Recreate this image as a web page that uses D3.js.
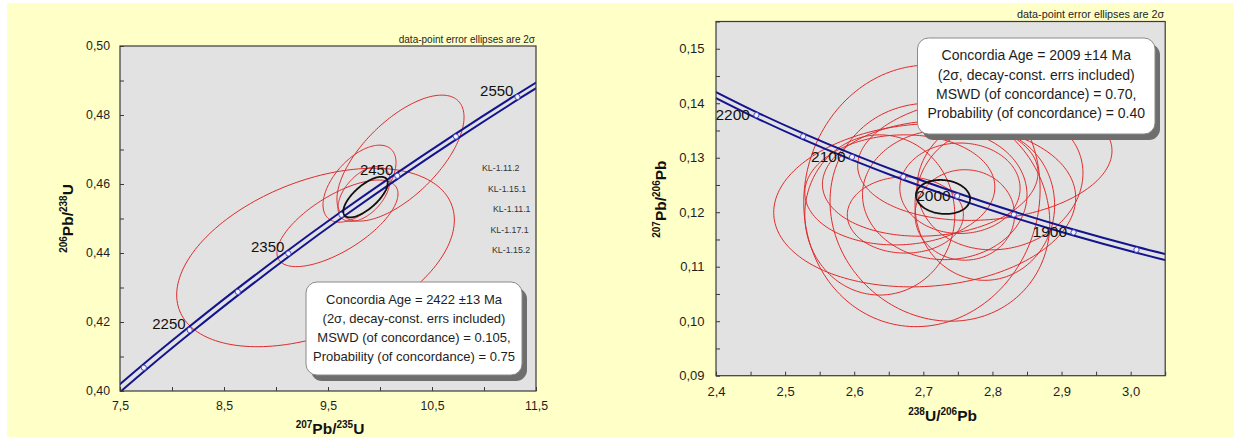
<!DOCTYPE html>
<html>
<head>
<meta charset="utf-8">
<script src="https://cdn.jsdelivr.net/npm/d3@7"></script>
<style>
  html, body { margin: 0; padding: 0; background: #ffffff; }
  svg { display: block; font-family: "Liberation Sans", Arial, sans-serif; }
</style>
</head>
<body>
<svg id="chart" width="1238" height="439"></svg>
<script>
// ---------- Wetherill concordia: 207Pb/235U vs 206Pb/238U ----------
const wetherillAges = [2150, 2200, 2250, 2300, 2350, 2400, 2450, 2500, 2550, 2600];
const wetherillX    = [7.3097, 7.7291, 8.1698, 8.6326, 9.1189, 9.6295, 10.1660, 10.7297, 11.3217, 11.9437];
const wetherillY    = [0.39587, 0.40675, 0.41767, 0.42873, 0.43986, 0.45107, 0.46237, 0.47375, 0.48523, 0.49679];
const wetherillLabelAges = [2250, 2350, 2450, 2550];

// spot analyses: [207Pb/235U, 206Pb/238U, 2s(207/235), 2s(206/238), rho]
const wetherillSpots = [
  [9.380, 0.4387, 1.335, 0.02586, 0.42],
  [10.197, 0.4675, 0.611, 0.01826, 0.65],
  [9.803, 0.4601, 0.351, 0.01116, 0.55],
  [9.591, 0.4486, 0.582, 0.01255, 0.68],
  [9.846, 0.4571, 0.250, 0.00797, 0.50]
];
const wetherillMean = [9.861, 0.4562, 0.2135, 0.00588, 0.70];
const spotNames = ["KL-1.11.2", "KL-1.15.1", "KL-1.11.1", "KL-1.17.1", "KL-1.15.2"];

const wetherillXTicks  = [7.5, 8, 8.5, 9, 9.5, 10, 10.5, 11, 11.5];
const wetherillXLabels = [7.5, 8.5, 9.5, 10.5, 11.5];
const wetherillYTicks  = [0.40, 0.41, 0.42, 0.43, 0.44, 0.45, 0.46, 0.47, 0.48, 0.49, 0.50];
const wetherillYLabels = [0.40, 0.42, 0.44, 0.46, 0.48, 0.50];

const wetherillResult = [
  "Concordia Age = 2422 \u00b113 Ma",
  "(2\u03c3, decay-const. errs included)",
  "MSWD (of concordance) = 0.105,",
  "Probability (of concordance) = 0.75"
];

// ---------- Tera-Wasserburg: 238U/206Pb vs 207Pb/206Pb ----------
const teraAges = [2250, 2200, 2150, 2100, 2050, 2000, 1950, 1900, 1850, 1800];
const teraX    = [2.3942, 2.4585, 2.5261, 2.5968, 2.6710, 2.7490, 2.8310, 2.9174, 3.0084, 3.1046];
const teraY    = [0.14187, 0.13782, 0.13392, 0.13015, 0.12651, 0.12299, 0.11958, 0.11629, 0.11311, 0.11004];
const teraLabelAges = [2200, 2100, 2000, 1900];

// spot analyses: [238U/206Pb, 207Pb/206Pb, 2s(238/206), 2s(207/206), rho]
const teraSpots = [
  [2.698, 0.1230, 0.171, 0.0240, 0.05],
  [2.724, 0.1200, 0.159, 0.0200, -0.10],
  [2.702, 0.1213, 0.2185, 0.0150, 0.09],
  [2.789, 0.1299, 0.184, 0.0114, 0.12],
  [2.731, 0.1232, 0.119, 0.0119, 0.00],
  [2.666, 0.1241, 0.1375, 0.0101, 0.05],
  [2.753, 0.1244, 0.087, 0.0083, 0.00],
  [2.710, 0.1262, 0.156, 0.0106, 0.10],
  [2.637, 0.1195, 0.1085, 0.0147, 0.00],
  [2.789, 0.1213, 0.101, 0.0138, 0.00],
  [2.811, 0.1259, 0.120, 0.0128, 0.10],
  [2.674, 0.1195, 0.084, 0.0070, 0.00],
  [2.760, 0.1195, 0.072, 0.0083, 0.00]
];
const teraMean = [2.7285, 0.1228, 0.0391, 0.00312, -0.10];

const teraXTicks  = [2.4, 2.45, 2.5, 2.55, 2.6, 2.65, 2.7, 2.75, 2.8, 2.85, 2.9, 2.95, 3.0, 3.05];
const teraXLabels = [2.4, 2.5, 2.6, 2.7, 2.8, 2.9, 3.0];
const teraYTicks  = [0.09, 0.095, 0.10, 0.105, 0.11, 0.115, 0.12, 0.125, 0.13, 0.135, 0.14, 0.145, 0.15, 0.155];
const teraYLabels = [0.09, 0.10, 0.11, 0.12, 0.13, 0.14, 0.15];

const teraResult = [
  "Concordia Age = 2009 \u00b114 Ma",
  "(2\u03c3, decay-const. errs included)",
  "MSWD (of concordance) = 0.70,",
  "Probability (of concordance) = 0.40"
];

const ellipseNote = "data-point error ellipses are 2\u03c3";

// ---------- drawing ----------
const svg = d3.select("#chart");
const commaLocale = d3.formatLocale({ decimal: ",", thousands: ".", grouping: [3], currency: ["", ""] });

const COL = {
  page: "#ffffc8",
  plot: "#e2e2e2",
  frame: "#3a3a3a",
  curve: "#14148f",
  marker: "#3b3bbd",
  spot: "#e02a2a",
  mean: "#111111",
  text: "#1e1e1e"
};

svg.append("rect").attr("x", 7).attr("y", 3).attr("width", 1227).attr("height", 434).attr("fill", COL.page);

const hasValue = (list, d) => list.some(v => Math.abs(v - d) < 1e-9);

function ellipsePath(x, y, e) {
  const [cx, cy, sx, sy, rho] = e;
  const k = Math.sqrt(1 - rho * rho);
  const pts = d3.range(0, 360, 2).map(a => {
    const t = a * Math.PI / 180;
    return [x(cx + sx * Math.cos(t)), y(cy + sy * (rho * Math.cos(t) + k * Math.sin(t)))];
  });
  return d3.line().curve(d3.curveLinearClosed)(pts);
}

function superLabel(sel, parts, size, supSize) {
  parts.forEach(p => {
    if (p.sup) {
      sel.append("tspan").attr("font-size", supSize).attr("dy", -size * 0.38).text(p.t);
    } else {
      sel.append("tspan").attr("font-size", size).attr("dy", p.after ? size * 0.38 : 0).text(p.t);
    }
  });
}

function drawPanel(cfg) {
  const g = svg.append("g");
  const x = d3.scaleLinear().domain(cfg.xDomain).range([cfg.left, cfg.right]);
  const y = d3.scaleLinear().domain(cfg.yDomain).range([cfg.bottom, cfg.top]);
  const clipId = cfg.id + "-clip";

  svg.append("defs").append("clipPath").attr("id", clipId)
    .append("rect").attr("x", cfg.left).attr("y", cfg.top)
    .attr("width", cfg.right - cfg.left).attr("height", cfg.bottom - cfg.top);

  // plot background
  g.append("rect").attr("x", cfg.left).attr("y", cfg.top)
    .attr("width", cfg.right - cfg.left).attr("height", cfg.bottom - cfg.top)
    .attr("fill", COL.plot);

  // axes with inward ticks
  const fx = commaLocale.format(cfg.xFmt);
  const fy = commaLocale.format(cfg.yFmt);
  const xAxis = d3.axisBottom(x).tickValues(cfg.xTicks)
    .tickSizeInner(-4).tickSizeOuter(0).tickPadding(cfg.xPad)
    .tickFormat(d => hasValue(cfg.xLabels, d) ? fx(d) : "");
  const yAxis = d3.axisLeft(y).tickValues(cfg.yTicks)
    .tickSizeInner(-4).tickSizeOuter(0).tickPadding(cfg.yPad)
    .tickFormat(d => hasValue(cfg.yLabels, d) ? fy(d) : "");

  const gx = g.append("g").attr("transform", `translate(0,${cfg.bottom})`).call(xAxis);
  const gy = g.append("g").attr("transform", `translate(${cfg.left},0)`).call(yAxis);
  [gx, gy].forEach(a => {
    a.select(".domain").remove();
    a.selectAll(".tick line").attr("stroke", COL.frame).attr("stroke-width", 1);
    a.selectAll(".tick text").attr("fill", COL.text)
      .attr("font-family", "'Liberation Sans', Arial, sans-serif")
      .attr("font-size", cfg.tickFont);
  });

  const body = g.append("g").attr("clip-path", `url(#${clipId})`);

  // spot error ellipses
  body.selectAll("path.spot").data(cfg.spots).join("path")
    .attr("class", "spot")
    .attr("d", d => ellipsePath(x, y, d))
    .attr("fill", "none").attr("stroke", COL.spot).attr("stroke-width", 1);

  // concordia band (decay-constant uncertainty)
  const pts = cfg.ages.map((a, i) => ({ age: a, x: cfg.cx[i], y: cfg.cy[i] }));
  [-1, 1].forEach(s => {
    const line = d3.line()
      .x(d => x(d.x + s * cfg.bandX))
      .y(d => y(d.y + s * cfg.bandY))
      .curve(d3.curveCatmullRom.alpha(0.5));
    body.append("path").attr("d", line(pts))
      .attr("fill", "none").attr("stroke", COL.curve).attr("stroke-width", 2);
  });

  // age marks
  body.selectAll("circle.age").data(pts).join("circle")
    .attr("class", "age")
    .attr("cx", d => x(d.x)).attr("cy", d => y(d.y)).attr("r", 2.6)
    .attr("fill", "#f4f4ff").attr("stroke", COL.marker).attr("stroke-width", 0.9);

  // concordia age ellipse
  body.append("path").attr("d", ellipsePath(x, y, cfg.mean))
    .attr("fill", "none").attr("stroke", COL.mean).attr("stroke-width", 1.8);

  // age labels
  g.selectAll("text.agelab").data(pts.filter(d => cfg.labelAges.includes(d.age))).join("text")
    .attr("class", "agelab")
    .attr("x", d => x(d.x) + cfg.ageDx).attr("y", d => y(d.y) + cfg.ageDy)
    .attr("text-anchor", "end").attr("font-size", cfg.ageFont).attr("fill", "#111")
    .text(d => d.age);

  // frame
  g.append("rect").attr("x", cfg.left).attr("y", cfg.top)
    .attr("width", cfg.right - cfg.left).attr("height", cfg.bottom - cfg.top)
    .attr("fill", "none").attr("stroke", COL.frame).attr("stroke-width", 1.2);

  // note above the plot
  g.append("text").attr("x", cfg.right - 1).attr("y", cfg.top - cfg.noteGap)
    .attr("text-anchor", "end").attr("font-size", cfg.noteFont).attr("fill", COL.text)
    .text(ellipseNote);

  // result box with drop shadow
  const b = cfg.box;
  g.append("rect").attr("x", b.x + 5).attr("y", b.y + 6).attr("width", b.w).attr("height", b.h)
    .attr("rx", 11).attr("fill", "#6e6e6e");
  g.append("rect").attr("x", b.x).attr("y", b.y).attr("width", b.w).attr("height", b.h)
    .attr("rx", 11).attr("fill", "#ffffff").attr("stroke", "#8a8a8a").attr("stroke-width", 1);
  g.selectAll("text.res").data(cfg.result).join("text")
    .attr("class", "res")
    .attr("x", b.x + b.w / 2).attr("y", (d, i) => b.y + b.first + i * b.gap)
    .attr("text-anchor", "middle").attr("font-size", b.font).attr("fill", COL.text)
    .text(d => d);

  // axis titles
  const xt = g.append("text").attr("x", (cfg.left + cfg.right) / 2 + cfg.xTitleDx).attr("y", cfg.xTitleY)
    .attr("text-anchor", "middle").attr("font-weight", "bold").attr("fill", "#111");
  superLabel(xt, cfg.xTitle, 15.5, 10);
  const yt = g.append("text")
    .attr("transform", `translate(${cfg.yTitleX},${(cfg.top + cfg.bottom) / 2 + cfg.yTitleDy}) rotate(-90)`)
    .attr("text-anchor", "middle").attr("font-weight", "bold").attr("fill", "#111");
  superLabel(yt, cfg.yTitle, 15.5, 10);

  return { g, x, y };
}

const left = drawPanel({
  id: "wetherill",
  left: 120, right: 536, top: 46, bottom: 391,
  xDomain: [7.5, 11.5], yDomain: [0.40, 0.50],
  xTicks: wetherillXTicks, xLabels: wetherillXLabels, xFmt: ".1f",
  yTicks: wetherillYTicks, yLabels: wetherillYLabels, yFmt: ".2f",
  xPad: 10, yPad: 10, tickFont: 12.3,
  spots: wetherillSpots, mean: wetherillMean,
  ages: wetherillAges, cx: wetherillX, cy: wetherillY, labelAges: wetherillLabelAges,
  bandX: 0.044, bandY: 0,
  ageDx: -4, ageDy: -1, ageFont: 15,
  noteGap: 3, noteFont: 10,
  result: wetherillResult,
  box: { x: 306, y: 282, w: 216, h: 93, first: 21.5, gap: 19, font: 13 },
  xTitle: [{ t: "207", sup: true }, { t: "Pb", after: true }, { t: "/" }, { t: "235", sup: true }, { t: "U", after: true }],
  yTitle: [{ t: "206", sup: true }, { t: "Pb", after: true }, { t: "/" }, { t: "238", sup: true }, { t: "U", after: true }],
  xTitleY: 434, xTitleDx: 2, yTitleX: 73, yTitleDy: 0
});

// sample names listed beside the Wetherill plot
const nameOffsets = [0, 6, 11, 8.5, 10];
left.g.selectAll("text.name").data(spotNames).join("text")
  .attr("class", "name")
  .attr("x", (d, i) => 482 + nameOffsets[i]).attr("y", (d, i) => 171 + i * 20.6)
  .attr("font-size", 8.8).attr("fill", "#333")
  .text(d => d);

drawPanel({
  id: "tera",
  left: 716, right: 1165.2, top: 21.5, bottom: 375.7,
  xDomain: [2.4, 3.05], yDomain: [0.09, 0.155],
  xTicks: teraXTicks, xLabels: teraXLabels, xFmt: ".1f",
  yTicks: teraYTicks, yLabels: teraYLabels, yFmt: ".2f",
  xPad: 11, yPad: 11.5, tickFont: 13,
  spots: teraSpots, mean: teraMean,
  ages: teraAges, cx: teraX, cy: teraY, labelAges: teraLabelAges,
  bandX: 0, bandY: 0.00055,
  ageDx: -6.5, ageDy: 5, ageFont: 15.5,
  noteGap: 3.5, noteFont: 10.8,
  result: teraResult,
  box: { x: 917.5, y: 38, w: 237.5, h: 96, first: 22.3, gap: 19.2, font: 14 },
  xTitle: [{ t: "238", sup: true }, { t: "U", after: true }, { t: "/" }, { t: "206", sup: true }, { t: "Pb", after: true }],
  yTitle: [{ t: "207", sup: true }, { t: "Pb", after: true }, { t: "/" }, { t: "206", sup: true }, { t: "Pb", after: true }],
  xTitleY: 420.5, xTitleDx: 2, yTitleX: 665.5, yTitleDy: 0.5
});
</script>
</body>
</html>
